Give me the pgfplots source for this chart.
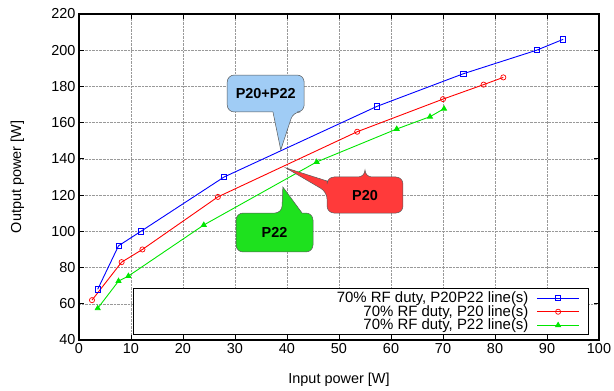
\documentclass[border=0pt]{standalone}
\usepackage{pgfplots}
\pgfplotsset{compat=1.18}
\usepackage{fontspec}
\setmainfont{Liberation Sans}
\definecolor{cbBlue}{RGB}{160,204,245}
\definecolor{cbRed}{RGB}{255,58,58}
\definecolor{cbGreen}{RGB}{30,225,30}
\definecolor{lBlue}{RGB}{0,0,255}
\definecolor{lRed}{RGB}{255,0,0}
\definecolor{lGreen}{RGB}{0,230,0}
\begin{document}
\begin{tikzpicture}
\path[use as bounding box] (-79bp,-51bp) rectangle (535bp,340bp);
\begin{axis}[
  at={(0,0)}, anchor=south west,
  scale only axis, width=520bp, height=326bp,
  xmin=0, xmax=100, ymin=40, ymax=220,
  xtick distance=10, ytick distance=20,
  grid=major, grid style={gray!80, densely dotted, line width=0.5pt},
  axis line style={line width=1.3pt},
  tick style={black, line width=0.8pt}, major tick length=5bp,
  tick align=inside,
  /pgf/number format/assume math mode=true,
  ticklabel style={font=\fontsize{14.5}{16}\selectfont},
  xlabel={Input power [W]}, ylabel={Output power [W]},
  label style={font=\fontsize{14.5}{16}\selectfont},
  xlabel style={at={(axis description cs:0.5,-0.132)}, anchor=base},
  ylabel style={at={(axis description cs:-0.1115,0.5)}, anchor=base, rotate=0},
  legend cell align=right,
  legend style={at={(axis cs:96.3,55.6)}, anchor=east, draw=none, fill=none,
    inner sep=0pt, font=\fontsize{15}{15}\selectfont, row sep=-1.2bp, column sep=7bp,
    nodes={inner sep=1.2bp}, legend plot pos=right},
  legend image code/.code={\draw[mark repeat=2,mark phase=2,#1] plot coordinates {(0bp,0bp) (21bp,0bp) (42bp,0bp)};},
]
\addplot[lBlue, line width=0.9pt, mark=square, mark size=2.6pt, mark options={line width=0.7pt}] coordinates {
(3.6,68) (7.6,92) (11.9,100) (27.9,130) (57.3,169) (73.9,187) (88,200) (93.1,206)};
\addplot[lRed, line width=0.9pt, mark=o, mark size=2.6pt, mark options={line width=0.7pt}] coordinates {
(2.5,62) (8.2,83) (12.2,90) (26.7,119) (53.5,155) (70,173) (77.8,181) (81.6,185)};
\addplot[lGreen, line width=0.9pt, mark=triangle*, mark size=2.8pt] coordinates {
(3.6,57.5) (7.6,72.5) (9.5,75.3) (24,103.5) (45.7,138.3) (61.1,156.5) (67.5,163.3) (70.2,167.7)};
% legend box
\draw[line width=1pt, fill=white] (axis cs:10.4,42.8) rectangle (axis cs:98,68.7);
% callouts
\draw[gray!70!black, line width=0.5pt, fill=cbBlue]
  (axis cs:28.5,176) [rounded corners=7bp] -- (axis cs:28.5,186.3) -- (axis cs:43.3,186.3) -- (axis cs:43.3,165.9)
  -- (axis cs:41.2,165.9) [sharp corners] -- (axis cs:38.8,144.9) -- (axis cs:37.3,165.9) [rounded corners=7bp]
  -- (axis cs:28.5,165.9) -- (axis cs:28.5,176) -- cycle;
\node[font=\fontsize{14.5}{16}\selectfont\bfseries] at (axis cs:35.9,176.1) {P20+P22};
\draw[gray!70!black, line width=0.5pt, fill=cbRed]
  (axis cs:55,130) [rounded corners=7bp] -- (axis cs:62.3,130) -- (axis cs:62.3,110.1) -- (axis cs:47.7,110.1)
  -- (axis cs:47.7,121.7) [sharp corners] -- (axis cs:39.8,135) -- (axis cs:47.7,127.8) [rounded corners=7bp]
  -- (axis cs:47.7,130) -- (axis cs:55,130) -- cycle;
\node[font=\fontsize{14.5}{16}\selectfont\bfseries] at (axis cs:55,120) {P20};
\draw[gray!70!black, line width=0.5pt, fill=cbGreen]
  (axis cs:30.2,100) [rounded corners=7bp] -- (axis cs:30.2,110.1) -- (axis cs:39.0,110.1) [sharp corners]
  -- (axis cs:39.2,124.5) -- (axis cs:42.9,110.1) [rounded corners=7bp] -- (axis cs:45,110.1)
  -- (axis cs:45,88.6) -- (axis cs:30.2,88.6) -- (axis cs:30.2,100) -- cycle;
\node[font=\fontsize{14.5}{16}\selectfont\bfseries] at (axis cs:37.6,99.3) {P22};
\legend{{70\% RF duty, P20P22 line(s)}, {70\% RF duty, P20 line(s)}, {70\% RF duty, P22 line(s)}}
\end{axis}
\end{tikzpicture}
\end{document}
